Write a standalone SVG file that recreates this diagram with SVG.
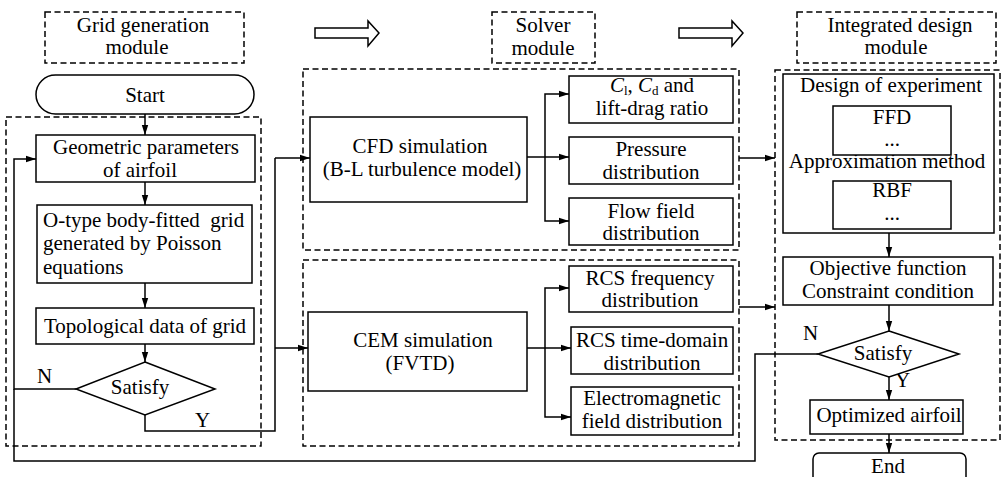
<svg xmlns="http://www.w3.org/2000/svg" width="1002" height="477" viewBox="0 0 1002 477">
<defs>
<marker id="ah" markerWidth="10" markerHeight="8" refX="10" refY="4" orient="auto" markerUnits="userSpaceOnUse">
<path d="M0,0.8 L10,4 L0,7.2 Z" fill="#000"/>
</marker>
</defs>
<style>
text{font-family:'Liberation Serif',serif;font-size:21px;fill:#000}
.c{text-anchor:middle}
.box{fill:#fff;stroke:#000;stroke-width:1.5}
.dash{fill:none;stroke:#000;stroke-width:1.5;stroke-dasharray:6 3.5}
.ln{fill:none;stroke:#000;stroke-width:1.5}
.ar{fill:none;stroke:#000;stroke-width:1.5;marker-end:url(#ah)}
.sub{font-size:13px}
</style>
<rect width="1002" height="477" fill="#fff"/>
<g font-family="Liberation Serif, serif">

<g id="grid-module">
<rect class="dash" x="45" y="12" width="199" height="51"/>
<text class="c" x="143" y="32">Grid generation</text>
<text class="c" x="137" y="54">module</text>
<rect class="dash" x="6" y="117" width="255" height="329"/>
</g>
<g id="solver-module">
<rect class="dash" x="492" y="12" width="103" height="51"/>
<text class="c" x="543" y="32">Solver</text>
<text class="c" x="543" y="55">module</text>
<rect class="dash" x="303" y="69" width="436" height="181"/>
<rect class="dash" x="303" y="260" width="436" height="186"/>
</g>
<g id="design-module">
<rect class="dash" x="797" y="12" width="199" height="51"/>
<text class="c" x="900" y="32">Integrated design</text>
<text class="c" x="896" y="54">module</text>
<rect class="dash" x="775" y="70" width="225" height="370"/>
</g>
<g id="hollow-arrows">
<path class="ln" d="M315,28 H368 V21 L379,33 L368,46 V38 H315 Z" fill="#fff"/>
<path class="ln" d="M679,28 H732 V21 L743,33 L732,46 V38 H679 Z" fill="#fff"/>
</g>

<g id="connectors">
<path class="ar" d="M145,114 V135"/>
<path class="ar" d="M145,182 V205"/>
<path class="ar" d="M145,283 V308"/>
<path class="ar" d="M145,344 V362"/>
<path class="ar" d="M76,389 H14 V159 H36"/>
<path class="ln" d="M145,415 V431 H275 V158"/>
<path class="ar" d="M275,158 H310"/>
<path class="ar" d="M275,348 H308"/>
<path class="ln" d="M527,157 H545"/>
<path class="ar" d="M545,157 V94 H569"/>
<path class="ar" d="M545,157 H569"/>
<path class="ar" d="M545,157 V221 H569"/>
<path class="ln" d="M527,348 H545"/>
<path class="ar" d="M545,348 V288 H569"/>
<path class="ar" d="M545,348 H571"/>
<path class="ar" d="M545,348 V417 H571"/>
<path class="ar" d="M739,158 H775"/>
<path class="ar" d="M739,307 H775"/>
<path class="ar" d="M889,233 V257"/>
<path class="ar" d="M889,305 V331"/>
<path class="ar" d="M889,377 V400"/>
<path class="ar" d="M889,434 V453"/>
<path class="ln" d="M818,354 H755 V461 H14 V389"/>
<text x="37" y="383">N</text>
<text x="195" y="427">Y</text>
<text x="803" y="340">N</text>
<text x="895" y="387">Y</text>
</g>

<g id="start">
<rect class="box" x="36" y="75" width="218" height="39" rx="19.5"/>
<text class="c" x="145" y="102">Start</text>
</g>
<g id="geometric">
<rect class="box" x="36" y="135" width="219" height="47"/>
<text class="c" x="146" y="154">Geometric parameters</text>
<text class="c" x="140" y="177">of airfoil</text>
</g>
<g id="otype">
<rect class="box" x="37" y="205" width="215" height="78"/>
<text x="43" y="227" xml:space="preserve">O-type body-fitted  grid</text>
<text x="43" y="250">generated by Poisson</text>
<text x="43" y="274">equations</text>
</g>
<g id="topological">
<rect class="box" x="36" y="308" width="218" height="36"/>
<text class="c" x="145" y="333">Topological data of grid</text>
</g>
<g id="satisfy1">
<path class="box" d="M145,362 L215,389 L145,415 L76,389 Z"/>
<text class="c" x="140" y="394">Satisfy</text>
</g>

<g id="cfd">
<rect class="box" x="310" y="117" width="217" height="85"/>
<text class="c" x="420" y="153">CFD simulation</text>
<text class="c" x="422" y="176">(B-L turbulence model)</text>
</g>
<g id="clcd">
<rect class="box" x="569" y="76" width="164" height="47"/>
<text class="c" x="652" y="92"><tspan font-style="italic">C</tspan><tspan class="sub" dy="3">l</tspan><tspan dy="-3">, </tspan><tspan font-style="italic">C</tspan><tspan class="sub" dy="3">d</tspan><tspan dy="-3"> and</tspan></text>
<text class="c" x="652" y="115">lift-drag ratio</text>
</g>
<g id="pressure">
<rect class="box" x="569" y="137" width="164" height="47"/>
<text class="c" x="651" y="156">Pressure</text>
<text class="c" x="651" y="179">distribution</text>
</g>
<g id="flowfield">
<rect class="box" x="569" y="198" width="164" height="47"/>
<text class="c" x="651" y="218">Flow field</text>
<text class="c" x="651" y="240">distribution</text>
</g>
<g id="cem">
<rect class="box" x="308" y="312" width="219" height="79"/>
<text class="c" x="423" y="347">CEM simulation</text>
<text class="c" x="420" y="370">(FVTD)</text>
</g>
<g id="rcsfreq">
<rect class="box" x="569" y="266" width="164" height="46"/>
<text class="c" x="650" y="285">RCS frequency</text>
<text class="c" x="650" y="307">distribution</text>
</g>
<g id="rcstime">
<rect class="box" x="571" y="327" width="162" height="47"/>
<text class="c" x="652" y="347">RCS time-domain</text>
<text class="c" x="652" y="370">distribution</text>
</g>
<g id="emfield">
<rect class="box" x="571" y="387" width="162" height="48"/>
<text class="c" x="652" y="405">Electromagnetic</text>
<text class="c" x="652" y="428">field distribution</text>
</g>

<g id="doe">
<rect class="box" x="783" y="74" width="211" height="159"/>
<text class="c" x="891" y="92">Design of experiment</text>
<text class="c" x="887" y="168">Approximation method</text>
</g>
<g id="ffd">
<rect class="box" x="833" y="106" width="118" height="49"/>
<text class="c" x="892" y="124">FFD</text>
<text class="c" x="892" y="146">...</text>
</g>
<g id="rbf">
<rect class="box" x="833" y="181" width="118" height="48"/>
<text class="c" x="892" y="197">RBF</text>
<text class="c" x="892" y="220">...</text>
</g>
<g id="objective">
<rect class="box" x="783" y="257" width="210" height="48"/>
<text class="c" x="888" y="275">Objective function</text>
<text class="c" x="888" y="298">Constraint condition</text>
</g>
<g id="satisfy2">
<path class="box" d="M889,331 L959,354 L889,377 L818,354 Z"/>
<text class="c" x="883" y="360">Satisfy</text>
</g>
<g id="optimized">
<rect class="box" x="810" y="400" width="153" height="34"/>
<text class="c" x="889" y="422">Optimized airfoil</text>
</g>
<g id="end">
<rect class="box" x="813" y="453" width="153" height="40" rx="6"/>
<text class="c" x="888" y="473">End</text>
</g>
</g>
</svg>
